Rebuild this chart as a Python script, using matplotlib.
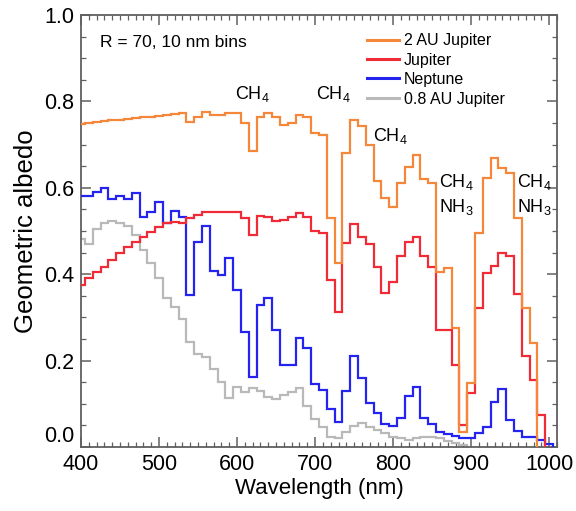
import numpy as np
import matplotlib
matplotlib.use("Agg")
import matplotlib.pyplot as plt
from matplotlib.ticker import MultipleLocator, FixedLocator

plt.rcParams['font.family'] = ['Liberation Sans', 'DejaVu Sans']
plt.rcParams['mathtext.default'] = 'regular'

# Geometric albedo spectra, 10 nm bins (bin centres in nm)
wl_jup = np.arange(400, 990, 10)          # 400 .. 980
wl_red = np.arange(400, 1000, 10)         # 400 .. 990
wl_nep = np.arange(400, 1010, 10)         # 400 .. 1000
wl_hot = np.arange(400, 900, 10)          # 400 .. 890

jupiter_2au = [0.748, 0.750, 0.752, 0.754, 0.756, 0.757, 0.759, 0.761, 0.763, 0.765,
               0.767, 0.769, 0.771, 0.772, 0.753, 0.765, 0.775, 0.768, 0.768, 0.772,
               0.772, 0.749, 0.685, 0.765, 0.772, 0.765, 0.745, 0.749, 0.768, 0.765,
               0.726, 0.723, 0.530, 0.427, 0.680, 0.757, 0.742, 0.699, 0.616, 0.576,
               0.556, 0.610, 0.649, 0.676, 0.620, 0.610, 0.406, 0.414, 0.276, 0.034,
               0.149, 0.495, 0.622, 0.668, 0.646, 0.634, 0.530, 0.321, 0.240]

jupiter = [0.375, 0.392, 0.406, 0.417, 0.433, 0.448, 0.462, 0.475, 0.487, 0.498,
           0.510, 0.518, 0.521, 0.519, 0.529, 0.537, 0.543, 0.545, 0.545, 0.545,
           0.543, 0.529, 0.491, 0.535, 0.533, 0.522, 0.525, 0.533, 0.541, 0.533,
           0.500, 0.495, 0.387, 0.313, 0.473, 0.517, 0.487, 0.471, 0.417, 0.357,
           0.383, 0.441, 0.475, 0.487, 0.443, 0.417, 0.271, 0.271, 0.189, 0.052,
           0.124, 0.321, 0.402, 0.419, 0.448, 0.443, 0.355, 0.211, 0.155, 0.074]

neptune = [0.581, 0.581, 0.591, 0.599, 0.573, 0.581, 0.573, 0.587, 0.532, 0.545,
           0.568, 0.518, 0.547, 0.533, 0.352, 0.475, 0.511, 0.408, 0.398, 0.437,
           0.363, 0.267, 0.163, 0.329, 0.344, 0.271, 0.190, 0.190, 0.252, 0.229,
           0.146, 0.132, 0.088, 0.059, 0.130, 0.211, 0.159, 0.103, 0.078, 0.053,
           0.049, 0.068, 0.117, 0.140, 0.066, 0.053, 0.035, 0.031, 0.026, 0.021,
           0.021, 0.032, 0.046, 0.105, 0.134, 0.063, 0.038, 0.023, 0.022, 0.017,
           0.008]

jupiter_08au = [0.481, 0.471, 0.504, 0.519, 0.523, 0.519, 0.512, 0.490, 0.456, 0.425,
                0.391, 0.344, 0.325, 0.296, 0.242, 0.215, 0.209, 0.180, 0.150, 0.113,
                0.140, 0.128, 0.136, 0.130, 0.115, 0.110, 0.120, 0.128, 0.136, 0.095,
                0.064, 0.047, 0.024, 0.020, 0.035, 0.049, 0.056, 0.047, 0.040, 0.032,
                0.024, 0.020, 0.016, 0.020, 0.024, 0.024, 0.020, 0.015, 0.010, 0.005]

y_ticks = [0.0, 0.2, 0.4, 0.6, 0.8, 1.0]
y_tick_labels = ["0.0", "0.2", "0.4", "0.6", "0.8", "1.0"]

series = [
    ("0.8 AU Jupiter", wl_hot, jupiter_08au, "#b9b9b9"),
    ("Neptune", wl_nep, neptune, "#2424ee"),
    ("Jupiter", wl_red, jupiter, "#ee2b36"),
    ("2 AU Jupiter", wl_jup, jupiter_2au, "#f5873a"),
]

fig = plt.figure(figsize=(5.76, 5.11), dpi=100)
ax = fig.add_axes([81 / 576, 64 / 511, 476 / 576, 432 / 511])

handles = {}
for i, (name, wl, vals, col) in enumerate(series):
    edges = np.append(wl - 5, wl[-1] + 5)
    ax.stairs(vals, edges, baseline=0, color=col, lw=1.6, zorder=2 + i)
    handles[name], = ax.plot([], [], color=col, lw=2.2)

ax.set_xlim(400, 1010)
ax.set_ylim(0, 1.0)
ax.xaxis.set_major_locator(MultipleLocator(100))
ax.xaxis.set_minor_locator(MultipleLocator(10))
ax.yaxis.set_major_locator(FixedLocator(y_ticks))
ax.yaxis.set_minor_locator(MultipleLocator(0.05))
ax.set_yticklabels(y_tick_labels)

spine_col = "#606060"
for s in ax.spines.values():
    s.set_color(spine_col)
    s.set_linewidth(1.3)
ax.tick_params(which='both', direction='in', top=True, right=True,
               color=spine_col, labelsize=15.5)
ax.tick_params(which='major', length=7, width=1.1, pad=5)
ax.tick_params(which='minor', length=3.5, width=0.9)

# lift the bottom y label clear of the x labels
ax.get_yticklabels()[0].set_verticalalignment('bottom')

ax.set_xlabel("Wavelength (nm)", fontsize=16, labelpad=2)
ax.set_ylabel("Geometric albedo", fontsize=18.5, labelpad=4)

ax.text(0.04, 0.937, "R = 70, 10 nm bins", transform=ax.transAxes,
        fontsize=12.5, va='center', ha='left')

label_kw = dict(fontsize=13, ha='center', va='center')
ax.text(619, 0.818, "CH$_4$", **label_kw)
ax.text(724, 0.818, "CH$_4$", **label_kw)
ax.text(797, 0.720, "CH$_4$", **label_kw)
ax.text(881, 0.613, "CH$_4$", **label_kw)
ax.text(881, 0.556, "NH$_3$", **label_kw)
ax.text(981, 0.613, "CH$_4$", **label_kw)
ax.text(981, 0.556, "NH$_3$", **label_kw)

order = ["2 AU Jupiter", "Jupiter", "Neptune", "0.8 AU Jupiter"]
ax.legend([handles[n] for n in order], order, loc='upper left',
          bbox_to_anchor=(0.6, 0.958), frameon=False, fontsize=11.5,
          handlelength=2.0, handletextpad=0.35, labelspacing=0.28,
          borderpad=0, borderaxespad=0)

fig.savefig("out.png", dpi=100)
